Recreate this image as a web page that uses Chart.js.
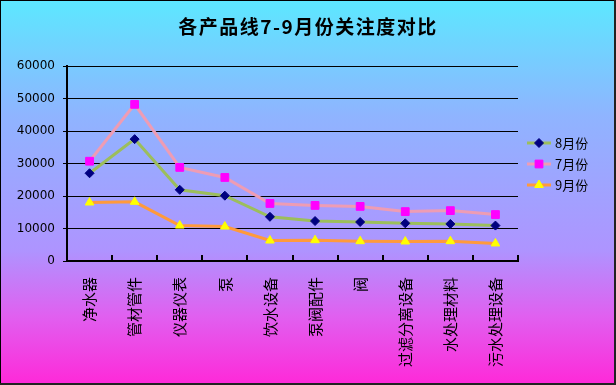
<!DOCTYPE html>
<html>
<head>
<meta charset="utf-8">
<script src="https://cdn.jsdelivr.net/npm/chart.js@4"></script>
<style>
	html, body { margin: 0; padding: 0; background: #fff; }
	#wrap { width: 616px; height: 385px; position: relative; }
</style>
</head>
<body>
<div id="wrap"><canvas id="myChart" width="616" height="385"></canvas></div>
<script>
// 카테고리 / 시리즈 값
const categories = ['净水器', '管材管件', '仪器仪表', '泵', '饮水设备', '泵阀配件', '阀', '过滤分离设备', '水处理材料', '污水处理设备'];
const augValues = [27000, 37500, 21900, 20100, 13600, 12300, 12000, 11600, 11400, 10900];
const julValues = [30700, 48200, 28800, 25700, 17700, 17100, 16800, 15200, 15500, 14300];
const sepValues = [18000, 18200, 10900, 10600, 6300, 6400, 6100, 6000, 6100, 5400];
const seriesNames = ['8月份', '7月份', '9月份'];
const yTicks = [0, 10000, 20000, 30000, 40000, 50000, 60000];
const chartTitle = '各产品线7-9月份关注度对比';

const CJK = '"Noto Sans CJK SC", "Noto Sans", sans-serif';

// 배경 그라데이션 + 테두리
const backgroundPlugin = {
	id: 'bg',
	beforeDraw(chart) {
		const ctx = chart.ctx;
		const g = ctx.createLinearGradient(0, 0, 0, chart.height);
		g.addColorStop(0, '#5CE8FF');
		g.addColorStop(0.3, '#8FB4FF');
		g.addColorStop(0.65, '#AE94FF');
		g.addColorStop(0.82, '#E060F0');
		g.addColorStop(1, '#FF28D8');
		ctx.save();
		ctx.fillStyle = g;
		ctx.fillRect(0, 0, chart.width, chart.height);
		ctx.restore();
	},
	afterDraw(chart) {
		const ctx = chart.ctx;
		const x = chart.scales.x;
		ctx.save();
		// x축 눈금 (위쪽으로)
		ctx.strokeStyle = '#000';
		ctx.lineWidth = 2;
		const step = (x.right - x.left) / categories.length;
		for (let i = 1; i <= categories.length; i++) {
			const px = Math.round(x.left + i * step);
			ctx.beginPath();
			ctx.moveTo(px, x.top);
			ctx.lineTo(px, x.top - 6);
			ctx.stroke();
		}
		// 제목
		ctx.fillStyle = '#000';
		ctx.font = 'bold 19px ' + CJK;
		ctx.letterSpacing = '1.5px';
		ctx.textAlign = 'center';
		ctx.textBaseline = 'middle';
		ctx.fillText(chartTitle, 308, 27);
		ctx.letterSpacing = '0px';
		// 범례
		const rows = [143, 164, 185];
		chart.data.datasets.forEach(function(ds, i) {
			const y = rows[i];
			ctx.strokeStyle = ds.borderColor;
			ctx.lineWidth = 3;
			ctx.beginPath();
			ctx.moveTo(527, y);
			ctx.lineTo(551, y);
			ctx.stroke();
			ctx.fillStyle = ds.pointBackgroundColor;
			ctx.strokeStyle = ds.pointBorderColor;
			ctx.lineWidth = 1;
			Chart.helpers.drawPoint(ctx, { pointStyle: ds.pointStyle, radius: ds.pointRadius, rotation: 0, borderWidth: 1 }, 539, y);
			ctx.fillStyle = '#000';
			ctx.font = '13px ' + CJK;
			ctx.textAlign = 'left';
			ctx.textBaseline = 'middle';
			ctx.fillText(ds.label, 555, y);
		});
		// 외곽 테두리
		ctx.strokeStyle = '#000';
		ctx.lineWidth = 1;
		ctx.strokeRect(0.5, 0.5, chart.width - 2, chart.height - 2);
		ctx.strokeStyle = '#222';
		ctx.lineWidth = 2;
		ctx.beginPath();
		ctx.moveTo(chart.width - 1, 0);
		ctx.lineTo(chart.width - 1, chart.height - 1);
		ctx.lineTo(0, chart.height - 1);
		ctx.stroke();
		ctx.restore();
	}
};

const ctx = document.getElementById('myChart');
window.myChart = new Chart(ctx, {
	type: 'line',
	data: {
		labels: categories,
		datasets: [{
			label: seriesNames[0],
			data: augValues,
			borderColor: '#9CBE5C',
			borderWidth: 3,
			pointStyle: 'rectRot',
			pointRadius: 4.5,
			pointBackgroundColor: '#000080',
			pointBorderColor: '#000080',
			pointBorderWidth: 1,
			tension: 0
		}, {
			label: seriesNames[1],
			data: julValues,
			borderColor: '#EE9CB4',
			borderWidth: 3,
			pointStyle: 'rect',
			pointRadius: 5.5,
			pointBackgroundColor: '#FF00FF',
			pointBorderColor: '#FF00FF',
			pointBorderWidth: 1,
			tension: 0
		}, {
			label: seriesNames[2],
			data: sepValues,
			borderColor: '#FF9A3C',
			borderWidth: 3,
			pointStyle: 'triangle',
			pointRadius: 5,
			pointBackgroundColor: '#FFFF00',
			pointBorderColor: '#FFFF00',
			pointBorderWidth: 1,
			tension: 0
		}]
	},
	options: {
		responsive: false,
		animation: false,
		devicePixelRatio: 1,
		layout: {
			padding: { top: 66, right: 98, bottom: 0, left: 0 }
		},
		scales: {
			x: {
				offset: true,
				grid: { display: false, drawTicks: false },
				border: { color: '#000', width: 2 },
				ticks: {
					autoSkip: false,
					minRotation: 90,
					maxRotation: 90,
					padding: 16,
					color: '#000',
					font: { family: CJK, size: 15 }
				},
				afterFit: function(scale) { scale.height = 124; }
			},
			y: {
				min: 0,
				max: 60000,
				afterBuildTicks: function(scale) {
					scale.ticks = yTicks.map(function(v) { return { value: v }; });
				},
				grid: { color: '#000', lineWidth: 1, tickLength: 4, drawTicks: true },
				border: { color: '#000', width: 2 },
				ticks: {
					padding: 8,
					color: '#000',
					font: { family: '"DejaVu Sans", sans-serif', size: 12 },
					callback: function(value) { return String(value); }
				},
				afterFit: function(scale) { scale.width = 67; }
			}
		},
		plugins: {
			legend: { display: false },
			title: { display: false },
			tooltip: { enabled: false }
		}
	},
	plugins: [backgroundPlugin]
});
</script>
</body>
</html>
